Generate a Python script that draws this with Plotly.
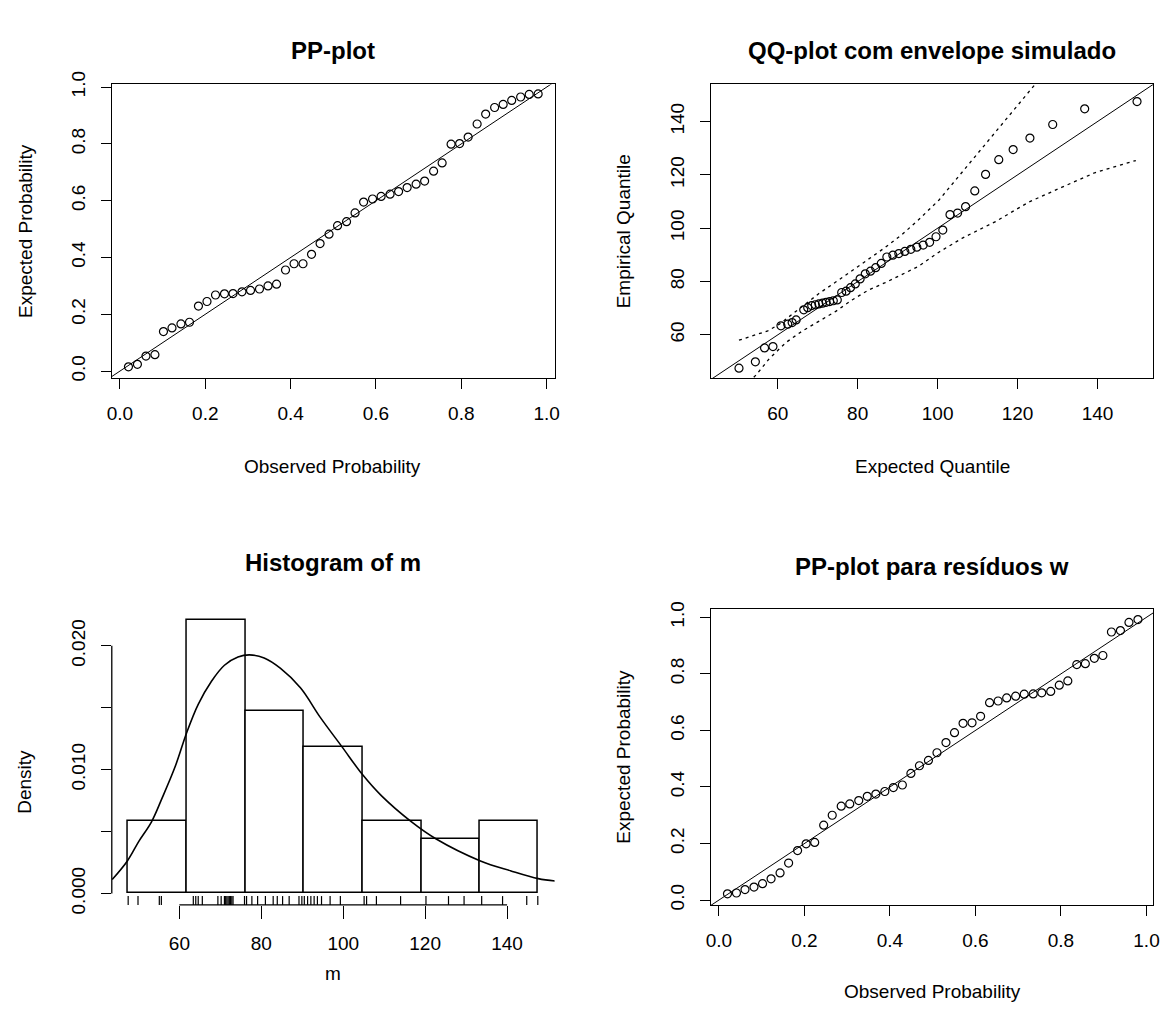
import plotly.graph_objects as go

W, H = 1172, 1016

# ---------------- data ----------------
# PP-plot (top left)
pp1_observed = [0.020, 0.041, 0.061, 0.082, 0.102, 0.122, 0.143, 0.163, 0.184, 0.204,
                0.224, 0.245, 0.265, 0.286, 0.306, 0.327, 0.347, 0.367, 0.388, 0.408,
                0.429, 0.449, 0.469, 0.490, 0.510, 0.531, 0.551, 0.571, 0.592, 0.612,
                0.633, 0.653, 0.673, 0.694, 0.714, 0.735, 0.755, 0.776, 0.796, 0.816,
                0.837, 0.857, 0.878, 0.898, 0.918, 0.939, 0.959, 0.980]
pp1_expected = [0.015, 0.024, 0.053, 0.058, 0.139, 0.152, 0.166, 0.172, 0.229, 0.245,
                0.268, 0.272, 0.273, 0.279, 0.284, 0.289, 0.300, 0.306, 0.356, 0.378,
                0.378, 0.411, 0.449, 0.482, 0.512, 0.526, 0.557, 0.595, 0.606, 0.615,
                0.623, 0.632, 0.646, 0.658, 0.669, 0.704, 0.733, 0.799, 0.801, 0.824,
                0.870, 0.905, 0.928, 0.939, 0.953, 0.965, 0.974, 0.976]

# QQ-plot with simulated envelope (top right)
qq_expected = [50.3, 54.4, 56.7, 58.8, 60.8, 62.5, 63.6, 64.6, 66.5, 67.5,
               68.5, 69.4, 70.3, 71.2, 72.1, 73.0, 73.9, 74.9, 76.0, 77.1,
               78.2, 79.4, 80.6, 81.9, 83.2, 84.5, 85.9, 87.3, 88.8, 90.3,
               91.8, 93.3, 94.8, 96.4, 98.0, 99.6, 101.3, 103.1, 105.0, 107.0,
               109.3, 112.0, 115.3, 118.9, 123.1, 128.8, 136.8, 149.9]
m_sorted = [47.5, 49.9, 55.1, 55.6,
            63.4, 64.0, 64.6, 65.6, 69.4, 70.2, 71.0, 71.3, 71.6, 71.9, 72.2, 72.5,
            72.8, 73.1, 75.9,
            76.4, 77.7, 79.1, 81.0, 82.9, 83.9, 85.2, 86.8, 89.2, 89.9,
            90.5, 91.3, 92.1, 92.9, 93.7, 94.7, 96.8, 99.3,
            105.1, 105.7, 108.1, 114.0,
            120.2, 125.7, 129.5,
            133.8, 138.9, 144.8, 147.5]
env_upper_x = [50.3, 53.8, 57.5, 60.4, 63.0, 66.2, 70.3, 74.5, 78.6, 82.7,
               86.9, 91.0, 95.1, 100.3, 106.2, 114.5, 120.0, 125.7, 136.8, 149.9]
env_upper = [58.0, 59.6, 61.5, 64.0, 67.0, 70.6, 75.5, 79.8, 84.1, 88.2,
             92.8, 97.5, 103.0, 110.5, 121.0, 136.0, 145.5, 155.5, 176.0, 200.0]
env_lower_x = [50.3, 54.6, 57.9, 62.1, 66.2, 70.3, 74.5, 78.6, 82.7, 86.9,
               91.0, 95.1, 100.3, 106.2, 114.5, 122.8, 131.0, 139.3, 149.6]
env_lower = [38.5, 45.0, 51.1, 57.2, 61.5, 65.1, 68.8, 73.1, 76.8, 79.6,
             82.5, 85.6, 91.0, 96.3, 102.5, 109.8, 115.3, 120.8, 125.4]
qq_line = [0.0, 200.0]

# Histogram of m (bottom left)
hist_breaks = [47.5, 61.8, 76.2, 90.3, 104.7, 119.1, 133.3, 147.5]
hist_density = [0.00584, 0.0221, 0.01474, 0.01179, 0.00584, 0.00442, 0.00584]
dens_x = [43.6, 47.3, 50.1, 53.2, 55.7, 59.0, 61.8, 64.6, 67.8, 71.0, 74.3, 77.1, 80.7,
          84.7, 89.6, 94.4, 99.8, 104.7, 109.3, 116.6, 122.6, 133.5, 140.8, 147.6, 152.1]
dens_y = [0.00113, 0.00263, 0.00421, 0.00579, 0.00764, 0.01027, 0.0130, 0.01527,
          0.01712, 0.01843, 0.01909, 0.01927, 0.01901, 0.01817, 0.01659, 0.01422,
          0.0118, 0.0096, 0.0079, 0.0058, 0.00442, 0.00263, 0.00184, 0.00120, 0.00100]
hist_xticks = [60, 80, 100, 120, 140]
hist_yticks = [0.000, 0.005, 0.010, 0.015, 0.020]
hist_yticklabels = ["0.000", "", "0.010", "", "0.020"]

# PP-plot for residuals w (bottom right)
pp2_observed = pp1_observed
pp2_expected = [0.022, 0.025, 0.037, 0.046, 0.058, 0.075, 0.096, 0.131, 0.175, 0.199,
                0.204, 0.265, 0.300, 0.332, 0.340, 0.352, 0.367, 0.375, 0.384, 0.398,
                0.407, 0.448, 0.475, 0.494, 0.521, 0.557, 0.592, 0.625, 0.627, 0.650,
                0.698, 0.704, 0.715, 0.721, 0.728, 0.729, 0.733, 0.738, 0.760, 0.775,
                0.833, 0.836, 0.855, 0.865, 0.948, 0.953, 0.982, 0.992]
pp_line = [-0.1, 1.1]
prob_ticks = [0.0, 0.2, 0.4, 0.6, 0.8, 1.0]
q_ticks = [60, 80, 100, 120, 140]

# ---------------- styling ----------------
FONT = "Liberation Sans, Arial, Helvetica, sans-serif"
BLACK = "#000000"
LW = 1.3
TICKFS = 19
LABFS = 19
TITLEFS = 24


def xd(a, b):
    return [a / W, b / W]


def yd(top, bottom):
    return [1 - bottom / H, 1 - top / H]


def axis_style(**kw):
    d = dict(showline=True, mirror=True, linecolor=BLACK, linewidth=LW,
             ticks="outside", ticklen=10, tickwidth=LW, tickcolor=BLACK,
             showgrid=False, zeroline=False,
             tickfont=dict(family=FONT, size=TICKFS, color=BLACK))
    d.update(kw)
    return d


fig = go.Figure()

marker_style = dict(symbol="circle-open", size=8, color=BLACK, line=dict(width=1.2, color=BLACK))
env_line = dict(color=BLACK, width=1.3, dash="3px,4px")

# Panel 1: PP-plot
fig.add_trace(go.Scatter(x=pp_line, y=pp_line, mode="lines",
                         line=dict(color=BLACK, width=1), xaxis="x", yaxis="y",
                         showlegend=False, hoverinfo="skip"))
fig.add_trace(go.Scatter(x=pp1_observed, y=pp1_expected, mode="markers",
                         marker=marker_style, xaxis="x", yaxis="y", showlegend=False))

# Panel 2: QQ-plot
fig.add_trace(go.Scatter(x=qq_line, y=qq_line, mode="lines",
                         line=dict(color=BLACK, width=1), xaxis="x2", yaxis="y2",
                         showlegend=False, hoverinfo="skip"))
fig.add_trace(go.Scatter(x=env_upper_x, y=env_upper, mode="lines",
                         line=env_line, xaxis="x2", yaxis="y2", showlegend=False))
fig.add_trace(go.Scatter(x=env_lower_x, y=env_lower, mode="lines",
                         line=env_line, xaxis="x2", yaxis="y2", showlegend=False))
fig.add_trace(go.Scatter(x=qq_expected, y=m_sorted, mode="markers",
                         marker=marker_style, xaxis="x2", yaxis="y2", showlegend=False))

# Panel 3: Histogram
mids = [(hist_breaks[i] + hist_breaks[i + 1]) / 2 for i in range(len(hist_density))]
widths = [hist_breaks[i + 1] - hist_breaks[i] for i in range(len(hist_density))]
fig.add_trace(go.Bar(x=mids, y=hist_density, width=widths,
                     marker=dict(color="white", line=dict(color=BLACK, width=1.5)),
                     xaxis="x3", yaxis="y3", showlegend=False))
fig.add_trace(go.Scatter(x=dens_x, y=dens_y, mode="lines", line_shape="spline",
                         line=dict(color=BLACK, width=1.6), xaxis="x3", yaxis="y3",
                         showlegend=False))
hist_yrange = [-0.000924, 0.022962]
rug_top = hist_yrange[0] + 0.03 * (hist_yrange[1] - hist_yrange[0])
rug_x, rug_y = [], []
for v in m_sorted:
    rug_x += [v, v, None]
    rug_y += [hist_yrange[0], rug_top, None]
fig.add_trace(go.Scatter(x=rug_x, y=rug_y, mode="lines", line=dict(color=BLACK, width=1.2),
                         xaxis="x3", yaxis="y3", showlegend=False, hoverinfo="skip",
                         cliponaxis=False))

# Panel 4: PP-plot residuals
fig.add_trace(go.Scatter(x=pp_line, y=pp_line, mode="lines",
                         line=dict(color=BLACK, width=1), xaxis="x4", yaxis="y4",
                         showlegend=False, hoverinfo="skip"))
fig.add_trace(go.Scatter(x=pp2_observed, y=pp2_expected, mode="markers",
                         marker=marker_style, xaxis="x4", yaxis="y4", showlegend=False))

layout = dict(
    width=W, height=H, margin=dict(l=0, r=0, t=0, b=0),
    paper_bgcolor="white", plot_bgcolor="white",
    font=dict(family=FONT, color=BLACK), bargap=0,
    xaxis=axis_style(domain=xd(108, 555), range=[-0.0186, 1.019], anchor="y",
                     tickvals=prob_ticks, tickformat=".1f", ticklabelstandoff=8),
    yaxis=axis_style(domain=yd(73, 373), range=[-0.024, 1.0093], anchor="x",
                     tickvals=prob_ticks, tickformat=".1f", tickangle=-90, ticklabelstandoff=8),
    xaxis2=axis_style(domain=xd(712.7, 1159.3), range=[43.3, 154.0], anchor="y2",
                      tickvals=q_ticks, ticklabelstandoff=8),
    yaxis2=axis_style(domain=yd(72.7, 373), range=[43.85, 154.05], anchor="x2",
                      tickvals=q_ticks, tickangle=-90, ticklabelstandoff=8),
    xaxis3=axis_style(domain=xd(107.8, 554.8), range=[43.5, 151.6], anchor="y3",
                      tickvals=hist_xticks, showline=False, mirror=False, ticklen=13,
                      ticklabelstandoff=8),
    yaxis3=axis_style(domain=yd(609.3, 911.7), range=hist_yrange, anchor="x3",
                      tickvals=hist_yticks, ticktext=hist_yticklabels, showline=False,
                      mirror=False, tickangle=-90, ticklabelstandoff=8),
    xaxis4=axis_style(domain=xd(712.7, 1159.3), range=[-0.0185, 1.0162], anchor="y4",
                      tickvals=prob_ticks, tickformat=".1f", ticklabelstandoff=8),
    yaxis4=axis_style(domain=yd(609.3, 911.7), range=[-0.0173, 1.029], anchor="x4",
                      tickvals=prob_ticks, tickformat=".1f", tickangle=-90, ticklabelstandoff=8),
)

# R-style axis lines for the histogram (span first to last tick only)
shapes = [
    dict(type="line", xref="x3", yref="y3 domain", x0=hist_xticks[0], x1=hist_xticks[-1],
         y0=0, y1=0, line=dict(color=BLACK, width=LW)),
    dict(type="line", xref="x3 domain", yref="y3", x0=0, x1=0, y0=hist_yticks[0],
         y1=hist_yticks[-1], line=dict(color=BLACK, width=LW)),
]
layout["shapes"] = shapes


def ann(text, x, y, size, bold=False, angle=0):
    return dict(text=f"<b>{text}</b>" if bold else text, x=x / W, y=1 - y / H,
                xref="paper", yref="paper", showarrow=False, textangle=angle,
                xanchor="center", yanchor="middle",
                font=dict(family=FONT, size=size, color=BLACK))


layout["annotations"] = [
    ann("PP-plot", 331, 38, TITLEFS, bold=True),
    ann("QQ-plot com envelope simulado", 936, 38, TITLEFS, bold=True),
    ann("Histogram of m", 331, 562, TITLEFS, bold=True),
    ann("PP-plot para resíduos w", 936, 566, TITLEFS, bold=True),
    ann("Observed Probability", 331, 464, LABFS),
    ann("Expected Probability", 20, 223, LABFS, angle=-90),
    ann("Expected Quantile", 936, 464, LABFS),
    ann("Empirical Quantile", 624, 223, LABFS, angle=-90),
    ann("m", 331, 982, LABFS),
    ann("Density", 20, 786, LABFS, angle=-90),
    ann("Observed Probability", 936, 1000, LABFS),
    ann("Expected Probability", 624, 760, LABFS, angle=-90),
]

fig.update_layout(**layout)
fig.write_html("out.html")
